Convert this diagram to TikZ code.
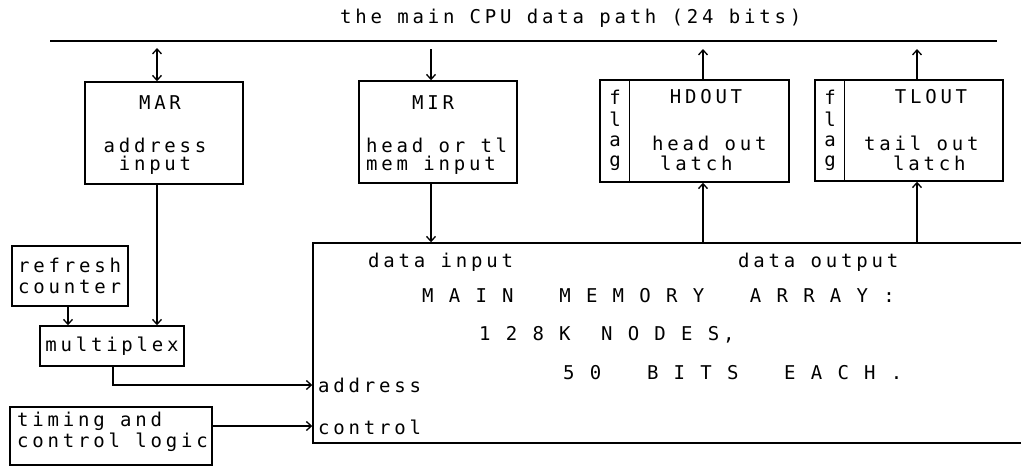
\documentclass[tikz,border=0pt]{standalone}
\usepackage{fontspec}
\setmonofont[LetterSpace=20]{DejaVu Sans Mono}
\usetikzlibrary{arrows.meta}
\begin{document}
\begin{tikzpicture}[x=1pt,y=-1pt,
  txt/.style={font=\fontsize{19}{19}\selectfont\ttfamily, inner sep=0pt, anchor=west},
  ctxt/.style={font=\fontsize{19}{19}\selectfont\ttfamily, inner sep=0pt},
  box/.style={draw, line width=1.4pt, inner sep=0pt},
  arr/.style={-{Straight Barb[length=5pt,width=9pt]}, line width=1.3pt},
  darr/.style={{Straight Barb[length=5pt,width=9pt]}-{Straight Barb[length=5pt,width=9pt]}, line width=1.3pt}]
\useasboundingbox (0,0) rectangle (1021,466);
\clip (0,0) rectangle (1021,466);
% bus
\coordinate (busL) at (50,41);
\coordinate (busR) at (997,41);
\draw[line width=2.2pt] (busL) -- (busR);
\node[txt] (title) at (340,18) {the main CPU data path (24 bits)};
% boxes
\node[box, minimum width=158pt, minimum height=102pt] (mar) at (164,133) {};
\node[box, minimum width=158pt, minimum height=102pt] (mir) at (438,132) {};
\node[box, minimum width=189pt, minimum height=102pt] (hd) at (694.5,131) {};
\node[box, minimum width=188pt, minimum height=101pt] (tl) at (909,130.5) {};
\node[box, minimum width=727pt, minimum height=200pt] (mem) at (676.5,343) {};
\node[box, minimum width=116pt, minimum height=60pt] (ref) at (70,276) {};
\node[box, minimum width=144pt, minimum height=40pt] (mux) at (112,346) {};
\node[box, minimum width=202pt, minimum height=58pt] (tim) at (111,436) {};
\draw[line width=1.4pt] ([xshift=30pt]hd.north west) -- ([xshift=30pt]hd.south west);
\draw[line width=1.4pt] ([xshift=30pt]tl.north west) -- ([xshift=30pt]tl.south west);
% x / y helpers
\coordinate (xmar) at (157,0);
\coordinate (xmir) at (431,0);
\coordinate (xhd) at (703,0);
\coordinate (xtl) at (917,0);
\coordinate (xref) at (68,0);
\coordinate (xmux) at (113,0);
\coordinate (ya) at (0,385);
\coordinate (yc) at (0,426);
% connectors
\draw[darr, shorten <=7pt] (busL -| xmar) -- (mar.north -| xmar);
\draw[arr, shorten <=8pt] (busL -| xmir) -- (mir.north -| xmir);
\draw[arr, shorten >=8pt] (hd.north -| xhd) -- (busL -| xhd);
\draw[arr, shorten >=8pt] (tl.north -| xtl) -- (busL -| xtl);
\draw[arr] (mir.south -| xmir) -- (mem.north -| xmir);
\draw[arr] (mem.north -| xhd) -- (hd.south -| xhd);
\draw[arr] (mem.north -| xtl) -- (tl.south -| xtl);
\draw[arr] (mar.south -| xmar) -- (mux.north -| xmar);
\draw[arr] (ref.south -| xref) -- (mux.north -| xref);
\draw[arr] (mux.south -| xmux) |- (mem.west |- ya);
\draw[arr] (tim.east |- yc) -- (mem.west |- yc);
% texts
\node[ctxt] (t1) at (160,103) {MAR};
\node[ctxt] (t2) at (155,145) {address};
\node[ctxt] (t3) at (155,165) {input};
\node[ctxt] (t4) at (433,103) {MIR};
\node[txt] (t5) at (366,145) {head or tl};
\node[txt] (t6) at (366,165) {mem input};
\node[ctxt] (t7) at (706,97) {HDOUT};
\node[txt] (t8) at (652,143) {head out};
\node[txt] (t9) at (660,163) {latch};
\node[ctxt] (f1) at (615,97) {f};
\node[ctxt] (f2) at (615,119) {l};
\node[ctxt] (f3) at (615,141) {a};
\node[ctxt] (f4) at (615,163) {g};
\node[ctxt] (t10) at (931,97) {TLOUT};
\node[txt] (t11) at (864,143) {tail out};
\node[txt] (t12) at (893,163) {latch};
\node[ctxt] (g1) at (830,97) {f};
\node[ctxt] (g2) at (830,119) {l};
\node[ctxt] (g3) at (830,141) {a};
\node[ctxt] (g4) at (830,163) {g};
\node[txt] (t13) at (368,262) {data input};
\node[txt] (t14) at (738,262) {data output};
\node[txt] (t15) at (422,296) {M A I N\ \ \ M E M O R Y\ \ \ A R R A Y :};
\node[txt] (t16) at (479,335) {1 2 8 K\ \ N O D E S,};
\node[txt] (t17) at (563,373) {5 0\ \ \ B I T S\ \ \ E A C H .};
\node[txt] (t18) at (318,385) {address};
\node[txt] (t19) at (318,427) {control};
\node[txt] (t20) at (18,265) {refresh};
\node[txt] (t21) at (18,287) {counter};
\node[ctxt] (t22) at (112,346) {multiplex};
\node[txt] (t23) at (17,421) {timing and};
\node[txt] (t24) at (17,442) {control logic};
\end{tikzpicture}
\end{document}
